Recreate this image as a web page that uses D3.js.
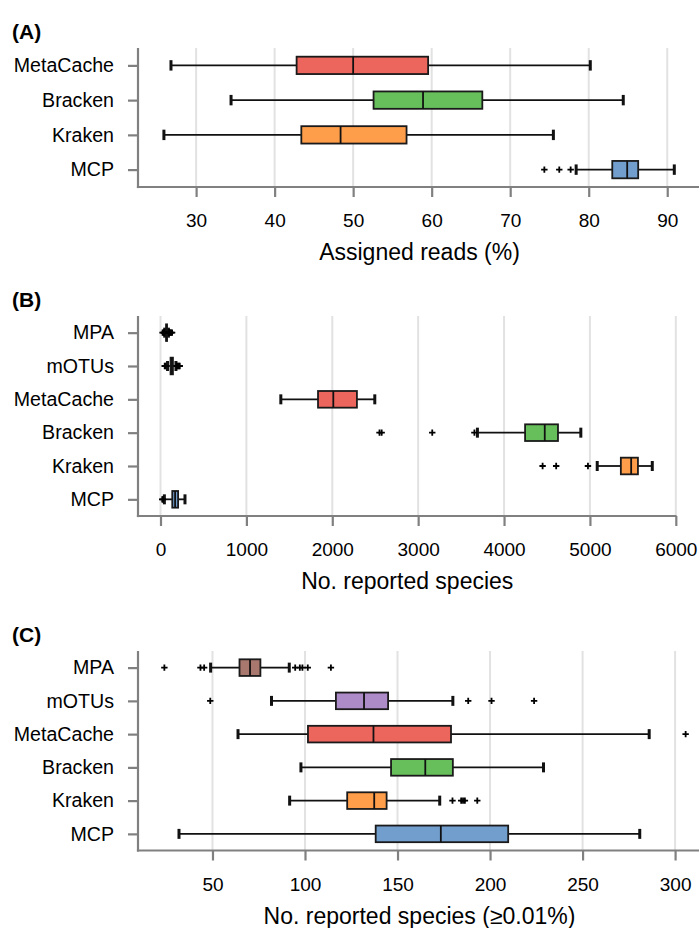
<!DOCTYPE html>
<html><head><meta charset="utf-8">
<script src="https://cdn.jsdelivr.net/npm/d3@7/dist/d3.min.js"></script>
<style>
body{margin:0;background:#fff}
svg{display:block}
text{font-family:"Liberation Sans",Arial,Helvetica,sans-serif}
</style>
</head><body>
<svg id="chart" width="699" height="928"></svg>
<script>
// ---------- DATA ----------
const colors = {MCP:"#729ECE", Kraken:"#FF9E4A", Bracken:"#67BF5C", MetaCache:"#ED665D", mOTUs:"#AD8BC9", MPA:"#A8786E"};

// Panel A: Assigned reads (%)  [whiskerLow, Q1, median, Q3, whiskerHigh]
const catsA = ["MetaCache","Bracken","Kraken","MCP"];
const statsA = [
  [26.8, 42.8, 50.0, 59.55, 80.2],
  [34.45, 52.6, 58.9, 66.45, 84.4],
  [25.9, 43.4, 48.4, 56.8, 75.5],
  [78.4, 83.0, 84.9, 86.3, 90.9]
];
const outliersA = [[], [], [], [74.35, 76.25, 77.7]];
const ticksA = [30, 40, 50, 60, 70, 80, 90];

// Panel B: No. reported species
const catsB = ["MPA","mOTUs","MetaCache","Bracken","Kraken","MCP"];
const statsB = [
  [49, 65, 70, 76, 92],
  [82, 117, 132, 145, 180],
  [1401, 1834, 2012, 2287, 2495],
  [3690, 4245, 4474, 4628, 4894],
  [5085, 5360, 5480, 5559, 5726],
  [45, 137, 170, 205, 285]
];
const outliersB = [
  [24, 36, 43, 46, 95, 98, 102, 108, 114, 125, 135],
  [49, 60, 188, 201, 215, 224],
  [],
  [2550, 2575, 3164, 3655],
  [4449, 4607, 4977],
  [20, 28]
];
const ticksB = [0, 1000, 2000, 3000, 4000, 5000, 6000];

// Panel C: No. reported species (>=0.01%)
const catsC = ["MPA","mOTUs","MetaCache","Bracken","Kraken","MCP"];
const statsC = [
  [49, 64.6, 70.3, 75.9, 91.5],
  [81.9, 116.7, 131.9, 144.9, 179.9],
  [63.8, 101.6, 137, 178.9, 286],
  [97.8, 146.5, 165, 179.9, 228.9],
  [91.7, 122.8, 137.4, 144.1, 172.8],
  [31.9, 138.2, 173.4, 209.8, 280.9]
];
const outliersC = [
  [24, 43.5, 45.5, 94.7, 97.2, 98.6, 101.5, 114],
  [48.8, 188.2, 200.8, 223.8],
  [305.7],
  [],
  [179.7, 184.4, 185.4, 186.4, 193.1],
  []
];
const ticksC = [50, 100, 150, 200, 250, 300];

// ---------- LAYOUT ----------
const panels = [
  {label:"(A)", cats:catsA, stats:statsA, outl:outliersA, ticks:ticksA, domain:[22.6, 94.3], range:[138, 701], top:48, bottom:187, xlabel:"Assigned reads (%)"},
  {label:"(B)", cats:catsB, stats:statsB, outl:outliersB, ticks:ticksB, domain:[-262, 6008], range:[138, 676.5], top:316, bottom:516, xlabel:"No. reported species"},
  {label:"(C)", cats:catsC, stats:statsC, outl:outliersC, ticks:ticksC, domain:[9.75, 314], range:[138, 701], top:651, bottom:850.5, xlabel:"No. reported species (\u22650.01%)"}
];

const svg = d3.select("#chart");
const AXIS_COL = "#808080";

panels.forEach(p => {
  const g = svg.append("g");
  const x = d3.scaleLinear().domain(p.domain).range(p.range);
  const y = d3.scalePoint().domain(p.cats).range([p.top, p.bottom]).padding(0.5);
  const step = y.step();
  const bh = step * 0.5, ch = step * 0.3;

  // grid
  g.append("g").selectAll("line").data(p.ticks).join("line")
    .attr("x1", d => x(d)).attr("x2", d => x(d))
    .attr("y1", p.top).attr("y2", p.bottom)
    .attr("stroke", "#e2e2e2").attr("stroke-width", 2);

  // boxes
  p.cats.forEach((c, i) => {
    const s = p.stats[i];
    const cy = y(c);
    const bg = g.append("g");
    bg.append("line").attr("x1", x(s[0])).attr("x2", x(s[1])).attr("y1", cy).attr("y2", cy)
      .attr("stroke", "#111").attr("stroke-width", 1.8);
    bg.append("line").attr("x1", x(s[3])).attr("x2", x(s[4])).attr("y1", cy).attr("y2", cy)
      .attr("stroke", "#111").attr("stroke-width", 1.8);
    [s[0], s[4]].forEach(v => {
      bg.append("line").attr("x1", x(v)).attr("x2", x(v)).attr("y1", cy - ch/2).attr("y2", cy + ch/2)
        .attr("stroke", "#111").attr("stroke-width", 3);
    });
    bg.append("rect").attr("x", x(s[1])).attr("y", cy - bh/2)
      .attr("width", Math.max(0.5, x(s[3]) - x(s[1]))).attr("height", bh)
      .attr("fill", colors[c]).attr("stroke", "#1a1a1a").attr("stroke-width", 1.8);
    bg.append("line").attr("x1", x(s[2])).attr("x2", x(s[2])).attr("y1", cy - bh/2).attr("y2", cy + bh/2)
      .attr("stroke", "#111").attr("stroke-width", 1.8);
    // outliers
    const m = 3.2;
    bg.selectAll("path.o").data(p.outl[i]).join("path").attr("class", "o")
      .attr("d", v => `M${x(v)-m},${cy}H${x(v)+m}M${x(v)},${cy-m}V${cy+m}`)
      .attr("stroke", "#000").attr("stroke-width", 1.8).attr("fill", "none");
  });

  // axes
  const ax = g.append("g").attr("transform", `translate(0,${p.bottom})`)
    .call(d3.axisBottom(x).tickValues(p.ticks).tickSize(10).tickSizeOuter(0).tickPadding(17).tickFormat(d3.format("d")));
  const ay = g.append("g").attr("transform", `translate(${p.range[0]},0)`)
    .call(d3.axisLeft(y).tickSize(10).tickSizeOuter(0).tickPadding(14));
  [ax, ay].forEach(a => {
    a.select(".domain").attr("stroke", AXIS_COL).attr("stroke-width", 2.2);
    a.selectAll(".tick line").attr("stroke", AXIS_COL).attr("stroke-width", 2.2);
    a.selectAll(".tick text").attr("fill", "#000").style("font-size", "19px")
      .style("font-family", '"Liberation Sans",Arial,sans-serif');
  });
  ay.selectAll(".tick text").style("font-size", "19.6px");
  // extend bottom domain to meet left axis
  ax.select(".domain").attr("d", `M${p.range[0]-1.1},0H${p.range[1]}`);
  ay.select(".domain").attr("d", `M0,${p.top}V${p.bottom+1.1}`);

  // x label
  g.append("text").attr("x", (p.range[0] + p.range[1]) / 2).attr("y", p.bottom + 73)
    .attr("text-anchor", "middle").style("font-size", "23px").attr("fill", "#000").text(p.xlabel);
  // panel label
  g.append("text").attr("x", 12).attr("y", p.top - 9.5)
    .style("font-size", "21px").style("font-weight", "bold").attr("fill", "#000").text(p.label);
});
</script>
</body></html>
